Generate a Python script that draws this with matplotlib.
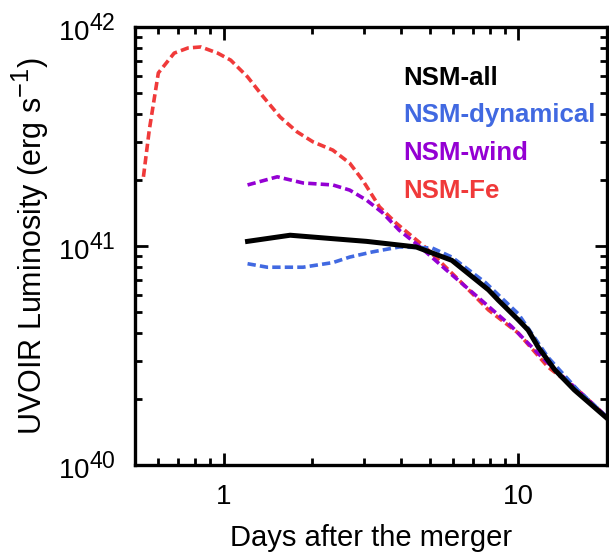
import matplotlib
matplotlib.use("Agg")
import matplotlib.pyplot as plt
import matplotlib._mathtext as _mt
from matplotlib.ticker import LogLocator, NullFormatter, LogFormatterSciNotation, FixedLocator, FixedFormatter

_mt.SHRINK_FACTOR = 0.83

plt.rcParams['font.family'] = ['Liberation Sans', 'DejaVu Sans']
plt.rcParams['mathtext.fontset'] = 'custom'
plt.rcParams['mathtext.rm'] = 'Liberation Sans'
plt.rcParams['mathtext.default'] = 'regular'
plt.rcParams['lines.scale_dashes'] = False

# ---- data (days, luminosity in 1e41 erg/s) ----
t_all = [1.205, 1.681, 2.347, 3.054, 3.944, 4.500, 5.949, 7.925, 8.55, 10.0, 10.8, 11.67, 13.3, 15.5, 19.94]
L_all = [1.05, 1.12, 1.08, 1.05, 1.01, 0.99, 0.86, 0.63, 0.566, 0.46, 0.413, 0.346, 0.272, 0.22, 0.164]

t_dyn = [1.205, 1.406, 1.859, 2.347, 2.677, 3.200, 3.944, 5.094, 5.949, 7.742, 10.0, 12.62, 15.92, 19.94]
L_dyn = [0.83, 0.80, 0.80, 0.84, 0.89, 0.94, 0.99, 0.98, 0.89, 0.68, 0.49, 0.31, 0.22, 0.166]

t_wind = [1.205, 1.520, 1.859, 2.347, 2.677, 3.054, 3.457, 3.944, 4.606, 5.679, 7.334, 9.472, 12.33, 15.92, 19.94]
L_wind = [1.90, 2.07, 1.94, 1.90, 1.80, 1.62, 1.42, 1.18, 1.00, 0.78, 0.58, 0.43, 0.30, 0.22, 0.166]

t_fe = [0.534, 0.559, 0.600, 0.679, 0.756, 0.837, 0.954, 1.056, 1.205, 1.364, 1.555, 1.775,
        2.009, 2.347, 2.677, 2.961, 3.378, 3.854, 4.862, 6.281, 7.925, 10.0, 12.62, 15.92, 19.94]
L_fe = [2.07, 3.39, 6.17, 7.60, 8.02, 8.11, 7.60, 7.06, 5.92, 4.79, 3.88, 3.32,
        2.99, 2.74, 2.39, 2.00, 1.51, 1.27, 0.98, 0.70, 0.51, 0.40, 0.28, 0.22, 0.166]

labels = ["NSM-all", "NSM-dynamical", "NSM-wind", "NSM-Fe"]
colors = ["black", "#4169E1", "#9400D3", "#F03A3A"]
scale = 1e41

fig = plt.figure(figsize=(6.09, 5.56), dpi=100)
ax = fig.add_axes([0.2217, 0.1637, 0.7750, 0.7877])

dash = (6.0, 3.0)
ax.plot(t_fe, [v * scale for v in L_fe], color=colors[3], lw=2.6, dashes=dash)
ax.plot(t_wind, [v * scale for v in L_wind], color=colors[2], lw=2.6, dashes=dash)
ax.plot(t_dyn, [v * scale for v in L_dyn], color=colors[1], lw=2.6, dashes=dash)
ax.plot(t_all, [v * scale for v in L_all], color=colors[0], lw=3.6)

ax.set_xscale('log')
ax.set_yscale('log')
ax.set_xlim(0.5, 20)
ax.set_ylim(1e40, 1e42)

ax.xaxis.set_major_locator(FixedLocator([1, 10]))
ax.xaxis.set_major_formatter(FixedFormatter(['1', '10']))
ax.xaxis.set_minor_locator(LogLocator(base=10, subs=range(2, 10), numticks=20))
ax.xaxis.set_minor_formatter(NullFormatter())
ax.yaxis.set_major_locator(LogLocator(base=10, numticks=10))
ax.yaxis.set_major_formatter(LogFormatterSciNotation())
ax.yaxis.set_minor_locator(LogLocator(base=10, subs=range(2, 10), numticks=20))
ax.yaxis.set_minor_formatter(NullFormatter())

for s in ax.spines.values():
    s.set_linewidth(2.4)
ax.tick_params(which='both', direction='in', top=True, right=True, width=2.0, labelsize=20)
ax.tick_params(which='major', length=9)
ax.tick_params(axis='x', which='major', pad=14)
ax.tick_params(axis='y', which='major', pad=14)
ax.tick_params(which='minor', length=5)

ax.set_xlabel("Days after the merger", fontsize=21, labelpad=10)
ax.set_ylabel("UVOIR Luminosity (erg s$^{-1}$)", fontsize=22, labelpad=5)

ys = [0.8676, 0.7831, 0.6963, 0.6096]
for lab, c, y in zip(labels, colors, ys):
    ax.text(0.568, y, lab, transform=ax.transAxes, color=c, fontsize=18.6,
            fontweight='bold', ha='left', va='baseline')

fig.savefig("out.png", dpi=100)
